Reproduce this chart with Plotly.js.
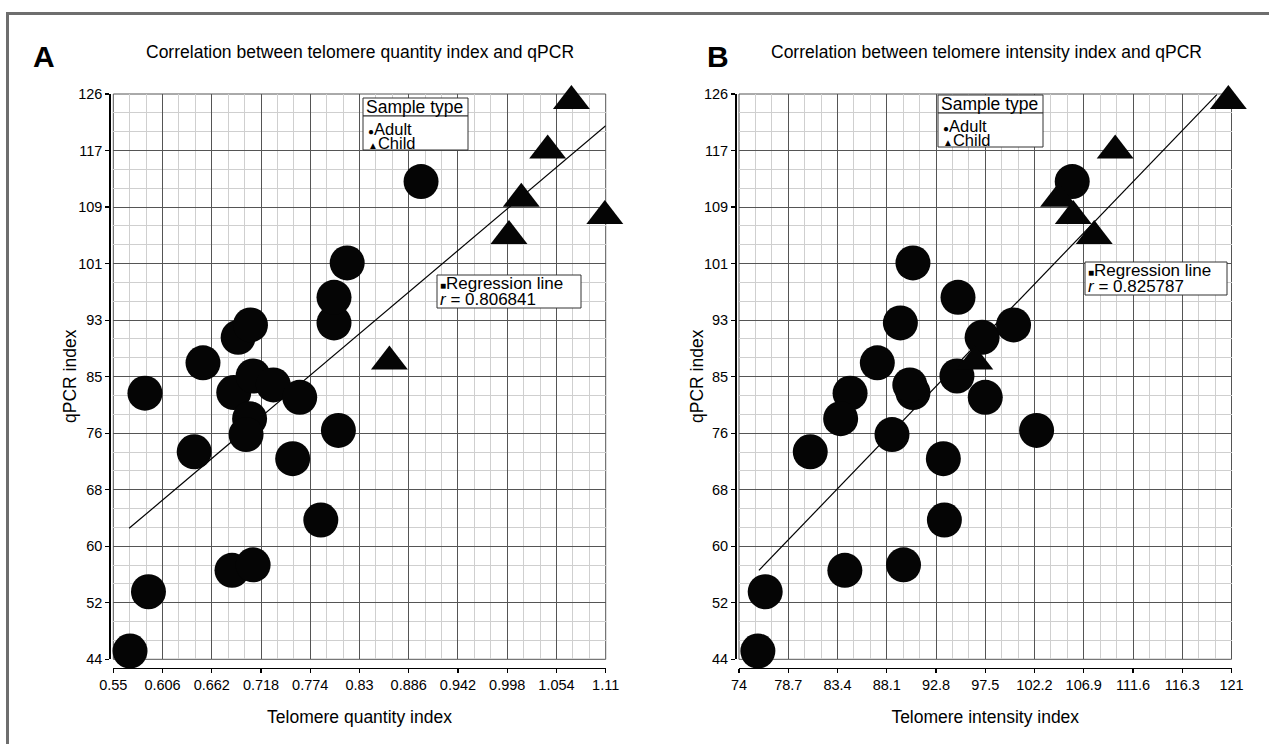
<!DOCTYPE html>
<html><head><meta charset="utf-8">
<script src="https://cdn.plot.ly/plotly-3.0.1.min.js"></script>
<style>html,body{margin:0;padding:0;background:#fff}#chart{width:1269px;height:744px}</style>
</head><body><div id="chart"></div>
<script>
// ---- data ----
const qpcrAdult      = [82.6, 87.0, 90.7, 92.5, 82.7, 85.1, 83.8, 82.0, 78.9, 76.6, 74.1, 73.1, 77.2, 64.2, 56.9, 57.7, 53.8, 92.8, 96.5, 101.5, 113.3, 45.2];
const quantityAdult  = [0.586, 0.652, 0.692, 0.706, 0.687, 0.709, 0.732, 0.762, 0.705, 0.701, 0.642, 0.754, 0.806, 0.786, 0.685, 0.709, 0.590, 0.801, 0.801, 0.816, 0.900, 0.569];
const intensityAdult = [84.6, 87.2, 97.2, 100.2, 90.6, 94.8, 90.3, 97.5, 83.7, 88.6, 80.8, 93.5, 102.4, 93.6, 84.1, 89.7, 76.5, 89.4, 94.9, 90.6, 105.8, 75.8];
const qpcrChild      = [125.0, 117.8, 110.8, 108.3, 105.4, 87.2];
const quantityChild  = [1.071, 1.044, 1.014, 1.109, 1.000, 0.864];
const intensityChild = [120.7, 109.9, 104.5, 105.9, 107.9, 96.5];

// regression lines as drawn in the reference (end points)
const regQuantityX  = [0.568, 1.11];
const regQuantityY  = [63.0, 121.4];
const regIntensityX = [75.9, 119.6];
const regIntensityY = [56.9, 125.9];

const quantityTicks    = [0.55, 0.606, 0.662, 0.718, 0.774, 0.83, 0.886, 0.942, 0.998, 1.054, 1.11];
const quantityTickText = ['0.55','0.606','0.662','0.718','0.774','0.83','0.886','0.942','0.998','1.054','1.11'];
const intensityTicks    = [74, 78.7, 83.4, 88.1, 92.8, 97.5, 102.2, 106.9, 111.6, 116.3, 121];
const intensityTickText = ['74','78.7','83.4','88.1','92.8','97.5','102.2','106.9','111.6','116.3','121'];
const qpcrTicks    = [44, 52.2, 60.4, 68.6, 76.8, 85, 93.2, 101.4, 109.6, 117.8, 126];
const qpcrTickText = ['44','52','60','68','76','85','93','101','109','117','126'];

const rValueA = '0.806841';
const rValueB = '0.825787';

// ---- helpers ----
const W = 1269, H = 744;
const px = v => v / W;
const py = v => 1 - v / H;
const FONT = 'Liberation Sans, Arial, Helvetica, sans-serif';

const circle = { symbol: 'circle', size: 35, color: '#050505', line: { width: 0 } };
const tri = { symbol: 'triangle-up', size: 32, color: '#050505', line: { width: 0 } };

const traces = [
  { type: 'scatter', mode: 'lines', x: regQuantityX, y: regQuantityY, xaxis: 'x', yaxis: 'y', line: { color: '#000', width: 1.2 }, showlegend: false, hoverinfo: 'skip' },
  { type: 'scatter', mode: 'markers', name: 'Adult', x: quantityAdult, y: qpcrAdult, xaxis: 'x', yaxis: 'y', marker: circle, cliponaxis: false, showlegend: false },
  { type: 'scatter', mode: 'markers', name: 'Child', x: quantityChild, y: qpcrChild, xaxis: 'x', yaxis: 'y', marker: tri, cliponaxis: false, showlegend: false },
  { type: 'scatter', mode: 'lines', x: regIntensityX, y: regIntensityY, xaxis: 'x2', yaxis: 'y2', line: { color: '#000', width: 1.2 }, showlegend: false, hoverinfo: 'skip' },
  { type: 'scatter', mode: 'markers', name: 'Adult', x: intensityAdult, y: qpcrAdult, xaxis: 'x2', yaxis: 'y2', marker: circle, cliponaxis: false, showlegend: false },
  { type: 'scatter', mode: 'markers', name: 'Child', x: intensityChild, y: qpcrChild, xaxis: 'x2', yaxis: 'y2', marker: tri, cliponaxis: false, showlegend: false }
];

function xAxis(domain, range, ticks, text, title, dt) {
  return {
    domain: domain, range: range, anchor: 'free', position: py(667.5),
    tickmode: 'array', tickvals: ticks, ticktext: text,
    ticks: 'outside', ticklen: 4, tickwidth: 1.2, tickcolor: '#000',
    showline: true, linecolor: '#000', linewidth: 1.5,
    showgrid: true, gridcolor: '#555', gridwidth: 1, zeroline: false,
    minor: { tickmode: 'linear', tick0: range[0], dtick: dt, showgrid: true, gridcolor: '#cfcfcf', gridwidth: 1 },
    tickfont: { family: FONT, size: 14.5, color: '#000' },
    title: { text: title, font: { family: FONT, size: 17.5, color: '#000' }, standoff: 18 },
    fixedrange: true
  };
}
function yAxis(domain, pos) {
  return {
    domain: domain, range: [44, 126], anchor: 'free', position: pos,
    tickmode: 'array', tickvals: qpcrTicks, ticktext: qpcrTickText,
    ticks: 'outside', ticklen: 4, tickwidth: 1.2, tickcolor: '#000',
    showline: true, linecolor: '#000', linewidth: 1.5,
    showgrid: true, gridcolor: '#555', gridwidth: 1, zeroline: false,
    minor: { tickmode: 'linear', tick0: 44, dtick: 8.2 / 3, showgrid: true, gridcolor: '#cfcfcf', gridwidth: 1 },
    tickfont: { family: FONT, size: 14.5, color: '#000' },
    fixedrange: true
  };
}

const domA = [px(113.3), px(605.7)];
const domB = [px(739), px(1231.5)];
const yDom = [py(659.3), py(94)];

function box(x0, x1, y0, y1, layer, fill, color) {
  return { type: 'rect', xref: 'paper', yref: 'paper', x0: px(x0), x1: px(x1), y0: py(y1), y1: py(y0),
    fillcolor: fill || 'rgba(0,0,0,0)', line: { color: color || '#333', width: 1 }, layer: layer || 'above' };
}

const layout = {
  width: W, height: H,
  margin: { l: 0, r: 0, t: 0, b: 0 },
  paper_bgcolor: '#fff', plot_bgcolor: '#fff',
  font: { family: FONT, color: '#000' },
  showlegend: false,
  xaxis: xAxis(domA, [0.55, 1.11], quantityTicks, quantityTickText, 'Telomere quantity index', 0.056 / 3),
  yaxis: yAxis(yDom, px(109.3)),
  xaxis2: xAxis(domB, [74, 121], intensityTicks, intensityTickText, 'Telomere intensity index', 4.7 / 3),
  yaxis2: yAxis(yDom, px(735)),
  shapes: [
    { type: 'rect', xref: 'paper', yref: 'paper', x0: px(7.5), x1: px(1300), y0: py(800), y1: py(13.5), line: { color: '#6e6e6e', width: 3 }, layer: 'below' },
    box(113.3, 605.7, 94, 659.3, 'below', null, '#555'),
    box(739, 1231.5, 94, 659.3, 'below', null, '#555'),
    box(363, 468, 98, 116, 'above', '#fff'),
    box(363, 468, 116, 150, 'above', '#fff'),
    box(437, 581, 275, 308, 'above', '#fff'),
    box(938, 1043, 95, 113, 'above', '#fff'),
    box(938, 1043, 113, 147, 'above', '#fff'),
    box(1085, 1227, 262, 295, 'above', '#fff')
  ],
  annotations: []
};

function ann(text, x, y, size, opts) {
  return Object.assign({ xref: 'paper', yref: 'paper', x: px(x), y: py(y), text: text, showarrow: false,
    xanchor: 'left', yanchor: 'middle', font: { family: FONT, size: size, color: '#000' } }, opts || {});
}
const sym = s => '<span style="font-size:10px">' + s + '</span>';
layout.annotations.push(
  ann('<b>A</b>', 44, 56, 30, { xanchor: 'center' }),
  ann('<b>B</b>', 718, 56, 30, { xanchor: 'center' }),
  ann('Correlation between telomere quantity index and qPCR', 360, 52, 17.5, { xanchor: 'center' }),
  ann('Correlation between telomere intensity index and qPCR', 986, 52, 17.5, { xanchor: 'center' }),
  ann('qPCR index', 70, 376, 17.5, { xanchor: 'center', textangle: -90 }),
  ann('qPCR index', 697, 376, 17.5, { xanchor: 'center', textangle: -90 }),
  ann('Sample type', 364, 107, 17.5),
  ann(sym('●') + 'Adult', 366, 129, 16.5),
  ann(sym('▲') + 'Child', 366, 142.5, 16.5),
  ann(sym('■') + 'Regression line', 438, 283, 17),
  ann('<i>r</i> = ' + rValueA, 438, 299.5, 17),
  ann('Sample type', 939, 104, 17.5),
  ann(sym('●') + 'Adult', 941, 126, 16.5),
  ann(sym('▲') + 'Child', 941, 139.5, 16.5),
  ann(sym('■') + 'Regression line', 1086, 270, 17),
  ann('<i>r</i> = ' + rValueB, 1086, 286.5, 17)
);

Plotly.newPlot('chart', traces, layout, { staticPlot: true, displayModeBar: false });
</script>
</body></html>
